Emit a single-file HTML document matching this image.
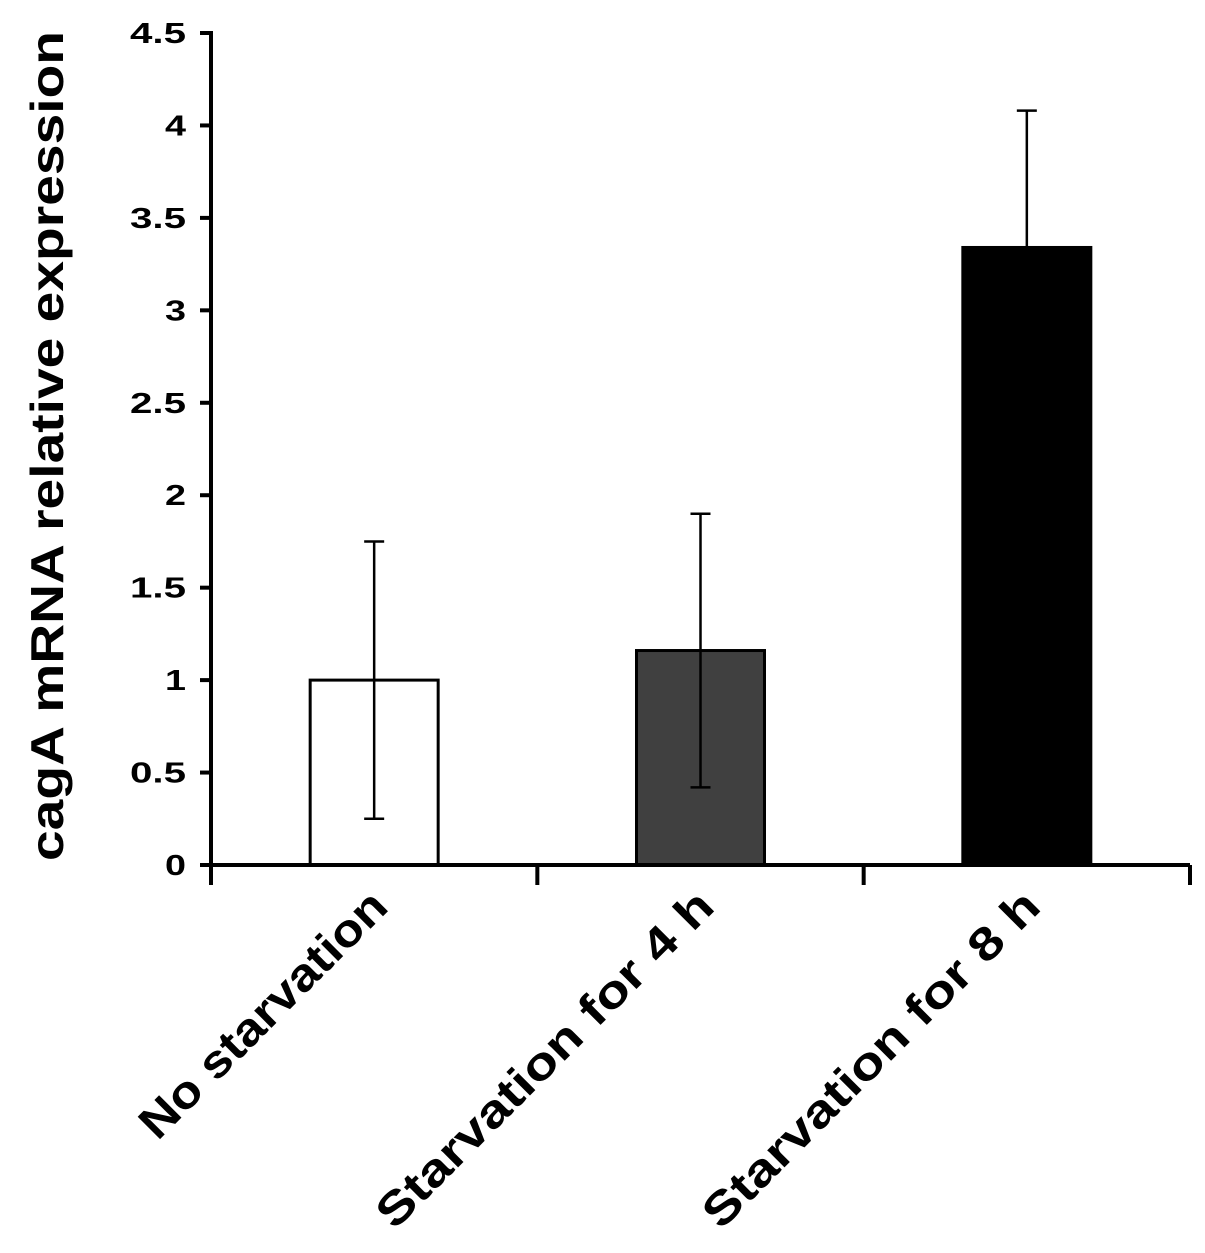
<!DOCTYPE html>
<html><head><meta charset="utf-8"><style>body{margin:0;background:#fff}svg{display:block}</style></head>
<body>
<svg width="1205" height="1253" id="c" font-family="'Liberation Sans', sans-serif" font-weight="bold"></svg>
<script>
const categories=["No starvation","Starvation for 4 h","Starvation for 8 h"];
const values=[1.0,1.16,3.34];
const errors=[0.75,0.74,0.74];
const fills=["#fff","#404040","#000"];
const ticks=[0,0.5,1,1.5,2,2.5,3,3.5,4,4.5];
const tickLabels=["0","0.5","1","1.5","2","2.5","3","3.5","4","4.5"];
const NS="http://www.w3.org/2000/svg";
const svg=document.getElementById('c');
const x0=211,x1=1190,y0=865,yTop=33,vmax=4.5;
const y=v=>y0-(y0-yTop)*v/vmax;
const bw=(x1-x0)/categories.length;
const xc=i=>x0+bw*(i+0.5);
function mk(t,a,p){const e=document.createElementNS(NS,t);for(const k in a)e.setAttribute(k,a[k]);(p||svg).appendChild(e);return e;}
categories.forEach((c,i)=>{
 const w=128,cx=xc(i);
 const r=mk('rect',{x:cx-w/2,y:y(values[i]),width:w,height:y0-y(values[i]),fill:fills[i],stroke:'#000','stroke-width':3});
 
 
 const g=mk('g',{stroke:'#000','stroke-width':2.5});
 
 
 const hi=y(values[i]+errors[i]),lo=y(values[i]-errors[i]);
 mk('line',{x1:cx,x2:cx,y1:hi,y2:lo},g);
 mk('line',{x1:cx-10,x2:cx+10,y1:hi,y2:hi},g);
 mk('line',{x1:cx-10,x2:cx+10,y1:lo,y2:lo},g);
 const t=mk('text',{x:0,y:0,'font-size':46,'text-anchor':'end',textLength:c.length*25.3,lengthAdjust:'spacingAndGlyphs',transform:`translate(${cx+16},${y0+44}) rotate(-45)`});
 t.textContent=c;
 
 
});
const ax=mk('g',{stroke:'#000','stroke-width':4});


mk('line',{x1:x0,x2:x0,y1:yTop-2,y2:y0+20},ax);
mk('line',{x1:x0,x2:x1,y1:y0,y2:y0},ax);
for(let i=1;i<=categories.length;i++)mk('line',{x1:x0+bw*i,x2:x0+bw*i,y1:y0,y2:y0+20},ax);
ticks.forEach((v,i)=>{
 mk('line',{x1:x0-11,x2:x0,y1:y(v),y2:y(v)},ax);
 const s=tickLabels[i];
 const len=[...s].reduce((a,ch)=>a+(ch==='.'?14:21),0);
 const t=mk('text',{x:186,y:y(v)+10,'font-size':29,'text-anchor':'end',textLength:len,lengthAdjust:'spacingAndGlyphs'});
 t.textContent=s;
 
 
});
const yt=mk('text',{x:0,y:0,'font-size':46,'text-anchor':'middle',textLength:830,lengthAdjust:'spacingAndGlyphs',transform:'translate(63,446) rotate(-90)'});
yt.textContent='cagA mRNA  relative expression';


</script>
</body></html>
